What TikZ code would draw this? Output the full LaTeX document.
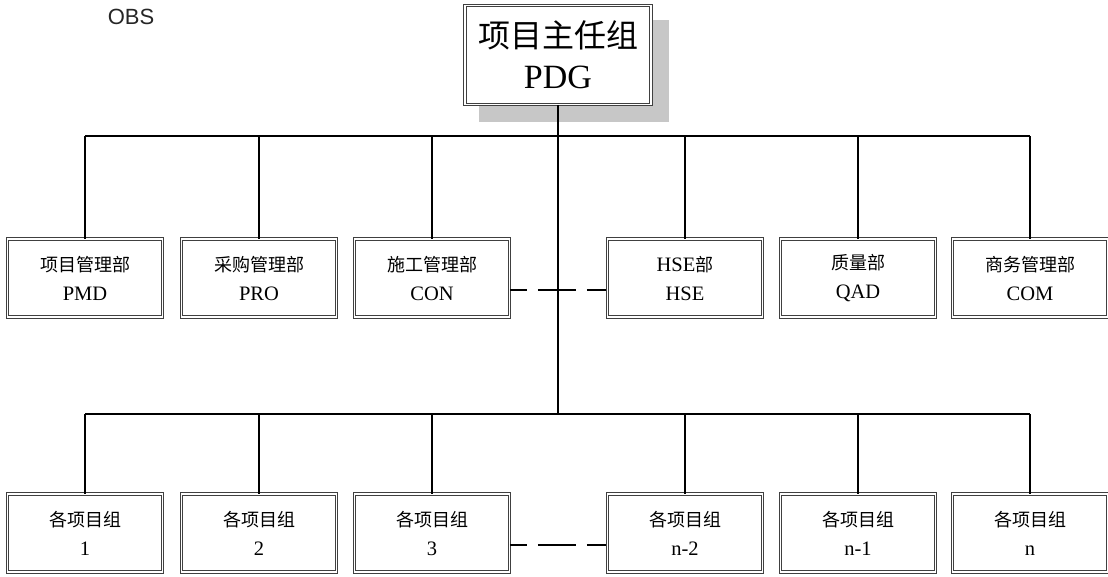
\documentclass[tikz,border=0pt]{standalone}
\usepackage{fontspec}
\setmainfont{Liberation Serif}
\setsansfont{Liberation Sans}
\newfontfamily\cjk{Noto Sans CJK SC}
\begin{document}
\begin{tikzpicture}[x=1pt,y=-1pt,
  box/.style={draw=black!75, line width=0.9pt, double=white, double distance=1.5pt,
    minimum width=155pt, minimum height=78pt, inner sep=0pt, align=center,
    font=\fontsize{20.5}{29}\selectfont},
  cn/.style={},
  link/.style={line width=2pt, draw=black},
  dashlink/.style={line width=2pt, draw=black, dash pattern=on 17pt off 11pt on 38pt off 11pt on 19pt}]
\useasboundingbox (0,0) rectangle (1108,576);
% shadow of the top box
\fill[black!22] (479,20) rectangle (669,122);
\node[box, fill=white, minimum width=186pt, minimum height=99pt,
      font=\fontsize{34}{41}\selectfont] (pdg) at (558,55) {{\cjk\fontsize{32}{41}\selectfont 项目主任组}\\PDG};
\node[font=\sffamily\fontsize{22}{26}\selectfont, text=black!85] (obs) at (131,17) {OBS};
% departments
\node[box] (d1) at (85,278)   {{\cjk\fontsize{18}{29}\selectfont 项目管理部}\\PMD};
\node[box] (d2) at (259,278)  {{\cjk\fontsize{18}{29}\selectfont 采购管理部}\\PRO};
\node[box] (d3) at (432,278)  {{\cjk\fontsize{18}{29}\selectfont 施工管理部}\\CON};
\node[box] (d4) at (685,278)  {HSE{\cjk\fontsize{18}{29}\selectfont 部}\\HSE};
\node[box] (d5) at (858,278)  {{\cjk\fontsize{18}{29}\selectfont 质量部}\\QAD};
\node[box] (d6) at (1030,278) {{\cjk\fontsize{18}{29}\selectfont 商务管理部}\\COM};
% project groups
\node[box] (g1) at (85,533)   {{\cjk\fontsize{18}{25}\selectfont 各项目组}\\1};
\node[box] (g2) at (259,533)  {{\cjk\fontsize{18}{25}\selectfont 各项目组}\\2};
\node[box] (g3) at (432,533)  {{\cjk\fontsize{18}{25}\selectfont 各项目组}\\3};
\node[box] (g4) at (685,533)  {{\cjk\fontsize{18}{25}\selectfont 各项目组}\\n-2};
\node[box] (g5) at (858,533)  {{\cjk\fontsize{18}{25}\selectfont 各项目组}\\n-1};
\node[box] (g6) at (1030,533) {{\cjk\fontsize{18}{25}\selectfont 各项目组}\\n};
% buses
\coordinate (bus1) at (559,136);
\coordinate (bus2) at (559,414);
\draw[link] (pdg.south) -- (pdg.south |- bus2);
\draw[link] (d1.north |- bus1) -- (d6.north |- bus1);
\draw[link] (g1.north |- bus2) -- (g6.north |- bus2);
\foreach \n in {d1,d2,d3,d4,d5,d6}{\draw[link] (\n.north |- bus1) -- (\n.north);}
\foreach \n in {g1,g2,g3,g4,g5,g6}{\draw[link] (\n.north |- bus2) -- (\n.north);}
% dashed links
\draw[dashlink] ([yshift=-12pt]d3.east) -- ([yshift=-12pt]d4.west);
\draw[dashlink] ([yshift=-12pt]g3.east) -- ([yshift=-12pt]g4.west);
\end{tikzpicture}
\end{document}
